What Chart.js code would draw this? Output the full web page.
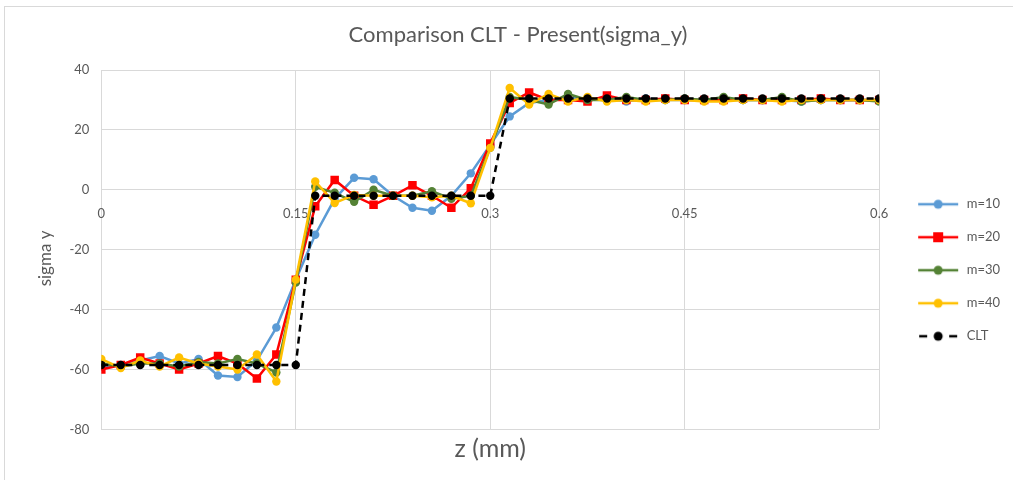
<!DOCTYPE html>
<html><head><meta charset="utf-8">
<script src="https://cdn.jsdelivr.net/npm/chart.js@4/dist/chart.umd.min.js"></script>
<style>
html,body{margin:0;padding:0;background:#fff;}
#frame{position:absolute;left:4px;top:6px;width:1012px;height:480px;border:1px solid #d9d9d9;box-sizing:border-box;}
#wrap{position:absolute;left:0;top:0;width:1013px;height:480px;}
</style></head><body>
<div id="frame"></div>
<div id="wrap"><canvas id="c"></canvas></div>
<script>
const zValues = [0, 0.015, 0.03, 0.045, 0.06, 0.075, 0.09, 0.105, 0.12, 0.135, 0.15,
  0.165, 0.18, 0.195, 0.21, 0.225, 0.24, 0.255, 0.27, 0.285, 0.3,
  0.315, 0.33, 0.345, 0.36, 0.375, 0.39, 0.405, 0.42, 0.435, 0.45,
  0.465, 0.48, 0.495, 0.51, 0.525, 0.54, 0.555, 0.57, 0.585, 0.6];
const m10 = [-59, -58.5, -57, -55.5, -58, -56.5, -62, -62.5, -57, -46, -30,
  -15, -3, 4, 3.5, -2, -6, -7, -2, 5.5, 15,
  24.5, 29, 30, 31, 30, 30.5, 29.5, 30.5, 30, 30, 30, 30, 30, 30, 30, 29.5, 30, 30, 30, 30];
const m20 = [-60, -58.5, -56, -58, -60, -58, -55.5, -58, -63, -55, -30,
  -5.5, 3.3, -2, -5, -2, 1.5, -2, -6, 0.5, 15.5,
  29, 32.5, 30, 30, 29.5, 31.5, 30, 30, 30.5, 30, 30, 30, 30.5, 30, 30, 30, 30.5, 30, 30, 30];
const m30 = [-58, -59, -58, -58, -59, -57.5, -58, -56.5, -58, -61, -31,
  1, -1, -4, 0, -2, -2, -0.5, -3, -2, 14,
  31, 30, 28.5, 32, 30, 30, 31, 30, 30, 30.5, 30, 31, 30, 30, 31, 29.5, 30, 30, 30, 29.5];
const m40 = [-56.5, -59.5, -57, -59, -56, -58, -59, -60, -55, -64, -30,
  2.8, -4.4, -1.7, -2, -2, -2, -2.5, -2, -4.5, 14,
  34, 28.5, 32, 29.5, 31, 29.5, 30, 29.5, 30, 30, 29.5, 29.5, 30, 30, 29.5, 30, 30, 30, 30, 30];
const clt = [-58.5, -58.5, -58.5, -58.5, -58.5, -58.5, -58.5, -58.5, -58.5, -58.5, -58.5,
  -2, -2, -2, -2, -2, -2, -2, -2, -2, -2,
  30.5, 30.5, 30.5, 30.5, 30.5, 30.5, 30.5, 30.5, 30.5, 30.5, 30.5, 30.5, 30.5, 30.5, 30.5, 30.5, 30.5, 30.5, 30.5, 30.5];
const seriesNames = ['m=10', 'm=20', 'm=30', 'm=40', 'CLT'];
const xTicks = [0, 0.15, 0.3, 0.45, 0.6];
const yTicks = [-80, -60, -40, -20, 0, 20, 40];

const FONT = 'Lato, "Open Sans", sans-serif';
const TXT = '#595959';
const GRID = '#d9d9d9';
const BOXW = 61;

function pts(arr){ return arr.map((v,i)=>({x:zValues[i], y:v})); }

function icon(color, style, dashed){
  const c = document.createElement('canvas');
  c.width = BOXW; c.height = 12;
  const g = c.getContext('2d');
  const o = BOXW - 42;
  g.strokeStyle = color; g.fillStyle = color; g.lineWidth = 2.5;
  if (dashed){
    g.beginPath(); g.moveTo(o+1,6); g.lineTo(o+9,6); g.moveTo(o+31,6); g.lineTo(o+39,6); g.stroke();
  } else {
    g.beginPath(); g.moveTo(o,6); g.lineTo(o+40,6); g.stroke();
  }
  if (style === 'rect'){ g.fillRect(o+15,1,10,10); }
  else { g.beginPath(); g.arc(o+20,6,4.5,0,Math.PI*2); g.fill(); }
  return c;
}

const colors = ['#5B9BD5', '#FF0000', '#548235', '#FFC000', '#000000'];
const styles = ['circle', 'rect', 'circle', 'circle', 'circle'];
const series = [m10, m20, m30, m40, clt];
const icons = colors.map((c,i)=>icon(c, styles[i], i===4));

const datasets = series.map((s,i)=>({
  label: seriesNames[i],
  data: pts(s),
  borderColor: colors[i],
  backgroundColor: colors[i],
  borderWidth: 2.5,
  borderDash: i===4 ? [7,5] : [],
  pointStyle: styles[i],
  pointRadius: styles[i]==='rect' ? 6 : 4.2,
  pointBorderWidth: 0,
  pointHoverRadius: 4,
  tension: 0,
  xAxisID: 'x', yAxisID: 'y',
  order: 4 - i
}));

new Chart(document.getElementById('c'), {
  type: 'line',
  data: { datasets },
  options: {
    responsive: true, maintainAspectRatio: false, animation: false, devicePixelRatio: 1,
    layout: { padding: { left: 26, right: 3, top: 0, bottom: 15.6 } },
    plugins: {
      title: { display: true, text: 'Comparison CLT - Present(sigma_y)', color: TXT,
        font: { family: FONT, size: 22, weight: 'normal' }, padding: { top: 22, bottom: 21.6 } },
      legend: { position: 'right',
        title: { display: true, text: '', font: { size: 10 }, padding: { top: 64, bottom: 0 } },
        labels: { color: TXT, font: { family: FONT, size: 13 }, usePointStyle: true, pointStyleWidth: BOXW, padding: 20,
          generateLabels: (chart) => chart.data.datasets.map((d,i)=>({
            text: d.label, pointStyle: icons[i], datasetIndex: i, fontColor: TXT,
            fillStyle: colors[i], strokeStyle: colors[i], lineWidth: 0, hidden: false })) } },
      tooltip: { enabled: false }
    },
    scales: {
      x: { type: 'linear', position: 'bottom', min: 0, max: 0.6,
        afterBuildTicks: (s)=>{ s.ticks = xTicks.map(v=>({value:v})); },
        ticks: { display: false },
        grid: { color: GRID, drawTicks: false, lineWidth: 1 },
        border: { display: false },
        title: { display: true, text: 'z (mm)', color: TXT, font: { family: FONT, size: 25 }, padding: { top: 5, bottom: 0 } } },
      xMid: { type: 'linear', axis: 'x', position: { y: 0 }, min: 0, max: 0.6,
        afterBuildTicks: (s)=>{ s.ticks = xTicks.map(v=>({value:v})); },
        ticks: { color: TXT, font: { family: FONT, size: 13 }, padding: 16, maxRotation: 0,
          callback: (v)=> String(+Number(v).toFixed(2)) },
        grid: { display: false, drawTicks: false },
        border: { display: false } },
      y: { type: 'linear', min: -80, max: 40,
        afterBuildTicks: (s)=>{ s.ticks = yTicks.map(v=>({value:v})); },
        ticks: { color: TXT, font: { family: FONT, size: 13 }, padding: 12 },
        grid: { color: GRID, drawTicks: false, lineWidth: 1 },
        border: { display: false },
        title: { display: true, text: 'sigma y    ', color: TXT, font: { family: FONT, size: 17 }, padding: { top: 9, bottom: 2 } } }
    }
  }
});
</script>
</body></html>
